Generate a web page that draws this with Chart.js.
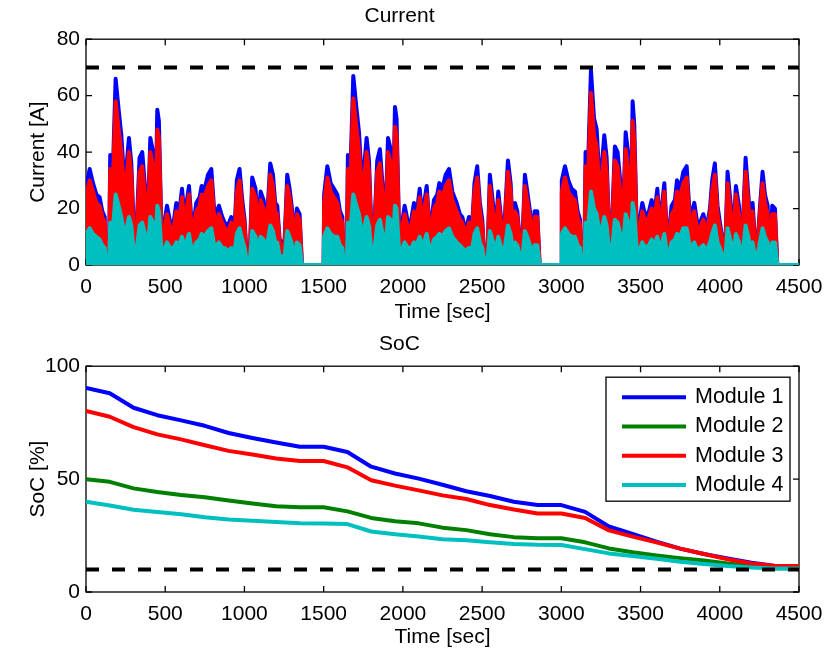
<!DOCTYPE html>
<html>
<head>
<meta charset="utf-8">
<script src="https://cdn.jsdelivr.net/npm/chart.js@4.4.1/dist/chart.umd.min.js"></script>
<style>
  body { margin: 0; background: #fff; }
  canvas { position: absolute; left: 0; }
  #currentChart { top: 0; }
  #socChart { top: 326px; }
</style>
</head>
<body>
<canvas id="currentChart" width="827" height="326"></canvas>
<canvas id="socChart" width="827" height="327"></canvas>
<script>
// drive profile repeated three times, a rest at the end of each one
const cycleStart = [0, 1500, 3000];
const endTime = 4500;
const profileTime = [0, 3, 23, 44, 65, 86, 103, 118, 126, 145, 153, 170, 187, 206, 223, 244, 271, 286, 301, 313,
    338, 355, 376, 391, 406, 423, 439, 450, 460, 475, 490, 511, 532, 553, 570, 587, 606, 622, 650, 671,
    696, 717, 730, 749, 770, 791, 812, 839, 860, 875, 896, 917, 938, 952, 969, 986, 1001, 1012, 1018, 1032,
    1049, 1070, 1085, 1102, 1121, 1138, 1163, 1180, 1194, 1207, 1222, 1238, 1253, 1270, 1285, 1302, 1316, 1331, 1348, 1363];

// current [A], one row per cycle
const module1Current = [
    [0, 28, 34, 29, 25, 24, 19, 17, 0, 0, 39, 34, 66, 55, 46, 27, 45, 36, 13, 5,
        38, 40, 25, 18, 45, 40, 22, 55, 51, 15, 13, 21, 15, 15, 22, 18, 27, 17, 28, 11,
        22, 24, 28, 27, 32, 34, 17, 21, 17, 15, 14, 17, 13, 30, 34, 23, 16, 5, 0, 0,
        31, 27, 13, 26, 23, 12, 36, 32, 22, 21, 9, 8, 8, 32, 27, 19, 6, 20, 18, 0],
    [0, 25, 35, 29, 27, 25, 19, 17, 0, 0, 39, 35, 67, 56, 47, 27, 45, 37, 13, 4,
        37, 41, 25, 18, 45, 41, 23, 56, 52, 15, 13, 21, 15, 16, 22, 18, 27, 17, 28, 11,
        23, 25, 29, 27, 32, 34, 26, 22, 18, 17, 12, 17, 15, 29, 35, 22, 16, 5, 0, 0,
        32, 21, 12, 26, 16, 11, 37, 29, 12, 22, 19, 9, 6, 32, 26, 19, 6, 19, 19, 0],
    [0, 30, 35, 30, 27, 26, 19, 16, 0, 0, 40, 38, 69, 52, 48, 27, 46, 38, 12, 4,
        42, 40, 27, 20, 47, 39, 16, 58, 50, 15, 14, 22, 17, 19, 23, 18, 27, 14, 29, 6,
        21, 23, 30, 27, 33, 35, 16, 22, 14, 15, 18, 13, 20, 30, 36, 21, 15, 11, 0, 0,
        33, 21, 11, 28, 21, 3, 38, 25, 15, 22, 9, 7, 20, 33, 25, 21, 0, 21, 20, 0]
];
const module3Current = [
    [0, 25, 30, 26, 22, 21, 17, 15, 0, 0, 34, 30, 58, 48, 40, 24, 40, 32, 11, 4,
        33, 35, 22, 16, 40, 35, 19, 48, 45, 13, 11, 18, 13, 13, 19, 16, 24, 15, 25, 10,
        19, 21, 25, 24, 28, 30, 15, 18, 15, 13, 12, 15, 11, 26, 30, 20, 14, 4, 0, 0,
        27, 24, 11, 23, 20, 11, 32, 28, 19, 18, 8, 7, 7, 28, 24, 17, 5, 18, 16, 0],
    [0, 22, 31, 26, 24, 22, 17, 15, 0, 0, 34, 31, 59, 49, 41, 24, 40, 33, 11, 4,
        33, 36, 22, 16, 40, 36, 20, 49, 46, 13, 11, 18, 13, 14, 19, 16, 24, 15, 25, 10,
        20, 22, 26, 24, 28, 30, 23, 19, 16, 15, 11, 15, 13, 26, 31, 19, 14, 4, 0, 0,
        28, 18, 11, 23, 14, 10, 33, 26, 11, 19, 17, 8, 5, 28, 23, 17, 5, 17, 17, 0],
    [0, 26, 31, 26, 24, 23, 17, 14, 0, 0, 35, 33, 61, 46, 42, 24, 40, 33, 11, 4,
        37, 35, 24, 18, 41, 34, 14, 51, 44, 13, 12, 19, 15, 17, 20, 16, 24, 12, 26, 5,
        18, 20, 26, 24, 29, 31, 14, 19, 12, 13, 16, 11, 18, 26, 32, 18, 13, 10, 0, 0,
        29, 18, 10, 25, 18, 3, 33, 22, 13, 19, 8, 6, 18, 29, 22, 18, 0, 18, 18, 0]
];
const module4Current = [
    [0, 11, 13, 11, 10, 9, 7, 6, 0, 0, 15, 13, 25, 21, 17, 10, 17, 14, 5, 2,
        14, 15, 10, 7, 17, 15, 8, 21, 19, 6, 5, 8, 6, 6, 8, 7, 10, 6, 11, 4,
        8, 9, 11, 10, 12, 13, 6, 8, 6, 6, 5, 6, 5, 11, 13, 9, 6, 2, 0, 0,
        12, 10, 5, 10, 9, 5, 14, 12, 8, 8, 3, 3, 3, 12, 10, 7, 2, 8, 7, 0],
    [0, 10, 13, 11, 10, 10, 7, 6, 0, 0, 15, 13, 25, 21, 18, 10, 17, 14, 5, 2,
        14, 16, 10, 7, 17, 16, 9, 21, 20, 6, 5, 8, 6, 6, 8, 7, 10, 6, 11, 4,
        9, 10, 11, 10, 12, 13, 10, 8, 7, 6, 5, 6, 6, 11, 13, 8, 6, 2, 0, 0,
        12, 8, 5, 10, 6, 4, 14, 11, 5, 8, 7, 3, 2, 12, 10, 7, 2, 7, 7, 0],
    [0, 11, 13, 11, 10, 10, 7, 6, 0, 0, 15, 14, 26, 20, 18, 10, 17, 14, 5, 2,
        16, 15, 10, 8, 18, 15, 6, 22, 19, 6, 5, 8, 6, 7, 9, 7, 10, 5, 11, 2,
        8, 9, 11, 10, 13, 13, 6, 8, 5, 6, 7, 5, 8, 11, 14, 8, 6, 4, 0, 0,
        13, 8, 4, 11, 8, 1, 14, 10, 6, 8, 3, 3, 8, 13, 10, 8, 0, 8, 8, 0]
];
const currentLimit = 70;

// state of charge [%]
const socTime = [0, 150, 300, 450, 600, 750, 900, 1050, 1200, 1350, 1500, 1650, 1800, 1950, 2100, 2250,
    2400, 2550, 2700, 2850, 3000, 3150, 3300, 3450, 3600, 3750, 3900, 4050, 4200, 4350, 4500];
const soc1 = [90.4, 88, 81.6, 78.3, 76, 73.6, 70.4, 68.2, 66.2, 64.3, 64.3, 62, 55.5, 52.5, 50.2, 47.5,
    44.6, 42.5, 40, 38.5, 38.5, 35.5, 29, 25.7, 22.3, 19.2, 16.8, 14.9, 13, 11.5, 11.5];
const soc2 = [49.9, 48.8, 45.9, 44.3, 43, 42, 40.5, 39.2, 38, 37.5, 37.5, 35.7, 32.8, 31.3, 30.4, 28.5,
    27.4, 25.6, 24.3, 23.8, 23.8, 22, 19.3, 17.6, 16.2, 15, 13.9, 12.6, 11.5, 10.5, 10.4];
const soc3 = [80.2, 77.6, 73, 69.8, 67.6, 65, 62.5, 60.9, 59.1, 58, 58, 55.2, 49.5, 47.1, 45, 42.8,
    41.2, 38.5, 36.5, 34.8, 34.8, 32.8, 27.3, 24.5, 22, 19.2, 16.8, 14.5, 12.6, 11.5, 11.5];
const soc4 = [40, 38.3, 36.4, 35.4, 34.4, 33.1, 32.1, 31.6, 31, 30.4, 30.3, 30.1, 26.8, 25.6, 24.6, 23.4,
    22.9, 22, 21.3, 20.9, 20.8, 19, 17.1, 15.9, 14.7, 13.4, 12.4, 11.5, 10.9, 10.4, 10.4];
const socLimit = 10;

const BLUE = '#0000ff', GREEN = '#008000', RED = '#ff0000', CYAN = '#00bfbf';
const FONT = '"Liberation Sans", Arial, sans-serif';

Chart.defaults.font.family = FONT;
Chart.defaults.font.size = 21;
Chart.defaults.color = '#000';

function currentPoints(rows) {
    const pts = [];
    rows.forEach((row, c) => {
        row.forEach((v, i) => pts.push({ x: cycleStart[c] + profileTime[i], y: v }));
    });
    pts.push({ x: endTime, y: 0 });
    return pts;
}

function socPoints(vals) {
    return vals.map((v, i) => ({ x: socTime[i], y: v }));
}

function limitPoints(v) {
    return [{ x: 0, y: v }, { x: endTime, y: v }];
}

// matlab style box with ticks pointing inwards on all four sides
const boxAxes = {
    id: 'boxAxes',
    beforeDatasetsDraw(chart) {
        const { ctx, chartArea: a, scales: { x, y } } = chart;
        ctx.save();
        ctx.strokeStyle = '#000';
        ctx.lineWidth = 1.3;
        ctx.strokeRect(a.left, a.top, a.right - a.left, a.bottom - a.top);
        ctx.beginPath();
        x.ticks.forEach(t => {
            const px = x.getPixelForValue(t.value);
            ctx.moveTo(px, a.bottom); ctx.lineTo(px, a.bottom - 6);
            ctx.moveTo(px, a.top); ctx.lineTo(px, a.top + 6);
        });
        y.ticks.forEach(t => {
            const py = y.getPixelForValue(t.value);
            ctx.moveTo(a.left, py); ctx.lineTo(a.left + 6, py);
            ctx.moveTo(a.right, py); ctx.lineTo(a.right - 6, py);
        });
        ctx.stroke();
        ctx.restore();
    }
};

// legend in a framed box, top right inside the plot
const boxLegend = {
    id: 'boxLegend',
    afterDatasetsDraw(chart, args, opts) {
        if (!opts.show) return;
        const { ctx, chartArea: a } = chart;
        const items = chart.data.datasets
            .filter(d => d.label.startsWith('Module'))
            .sort((p, q) => p.label.localeCompare(q.label));
        const w = 184, h = 124;
        const left = a.right - 9 - w, top = a.top + 11;
        ctx.save();
        ctx.fillStyle = '#fff';
        ctx.fillRect(left, top, w, h);
        ctx.strokeStyle = '#000';
        ctx.lineWidth = 1.3;
        ctx.strokeRect(left, top, w, h);
        ctx.font = '21.5px ' + FONT;
        ctx.textBaseline = 'middle';
        items.forEach((d, i) => {
            const yy = top + 20 + i * 29.3;
            ctx.strokeStyle = d.borderColor;
            ctx.lineWidth = 4;
            ctx.beginPath();
            ctx.moveTo(left + 16, yy);
            ctx.lineTo(left + 80, yy);
            ctx.stroke();
            ctx.fillStyle = '#000';
            ctx.fillText(d.label, left + 89, yy);
        });
        ctx.restore();
    }
};

function baseOptions(title, yTitle, yMax, yStep, titlePad, xTitlePad, legend) {
    return {
        responsive: false,
        animation: false,
        layout: { padding: { left: 0, right: 28, top: 0, bottom: 0 } },
        elements: {
            point: { radius: 0 },
            line: { borderWidth: 4, borderJoinStyle: 'round', borderCapStyle: 'round' }
        },
        plugins: {
            legend: { display: false },
            tooltip: { enabled: false },
            title: {
                display: true,
                text: title,
                color: '#000',
                font: { size: 21, weight: 'normal' },
                padding: titlePad
            },
            boxLegend: { show: legend }
        },
        scales: {
            x: {
                type: 'linear',
                min: 0,
                max: endTime,
                ticks: { stepSize: 500, padding: 10, maxRotation: 0, autoSkip: false, callback: v => String(v) },
                grid: { display: false, drawTicks: false },
                border: { display: false },
                title: { display: true, text: 'Time [sec]', padding: { top: 0, bottom: xTitlePad } },
                afterFit: s => { s.height = 61; s.paddingLeft = 0; s.paddingRight = 0; }
            },
            y: {
                min: 0,
                max: yMax,
                ticks: { stepSize: yStep, padding: 6, callback: v => String(v) },
                grid: { display: false, drawTicks: false },
                border: { display: false },
                title: { display: true, text: yTitle, padding: { top: 26, bottom: 0 } },
                afterFit: s => { s.width = 86; s.paddingTop = 0; s.paddingBottom = 0; }
            }
        }
    };
}

new Chart(document.getElementById('currentChart'), {
    type: 'line',
    data: {
        datasets: [
            { label: 'Limit', data: limitPoints(currentLimit), borderColor: '#000', borderWidth: 4, borderDash: [13, 13], borderCapStyle: 'butt', order: 0 },
            { label: 'Module 4', data: currentPoints(module4Current), borderColor: CYAN, backgroundColor: CYAN, fill: 'origin', order: 1 },
            { label: 'Module 3', data: currentPoints(module3Current), borderColor: RED, backgroundColor: RED, fill: 'origin', order: 2 },
            { label: 'Module 1', data: currentPoints(module1Current), borderColor: BLUE, backgroundColor: BLUE, fill: 'origin', order: 3 }
        ]
    },
    options: baseOptions('Current', 'Current [A]', 80, 20, { top: 4, bottom: 10 }, 1, false),
    plugins: [boxAxes, boxLegend]
});

new Chart(document.getElementById('socChart'), {
    type: 'line',
    data: {
        datasets: [
            { label: 'Limit', data: limitPoints(socLimit), borderColor: '#000', borderWidth: 4, borderDash: [13, 13], borderCapStyle: 'butt', order: 0 },
            { label: 'Module 4', data: socPoints(soc4), borderColor: CYAN, order: 1 },
            { label: 'Module 3', data: socPoints(soc3), borderColor: RED, order: 2 },
            { label: 'Module 2', data: socPoints(soc2), borderColor: GREEN, order: 3 },
            { label: 'Module 1', data: socPoints(soc1), borderColor: BLUE, order: 4 }
        ]
    },
    options: baseOptions('SoC', 'SoC [%]', 100, 50, { top: 6, bottom: 9 }, 3, true),
    plugins: [boxAxes, boxLegend]
});
</script>
</body>
</html>
